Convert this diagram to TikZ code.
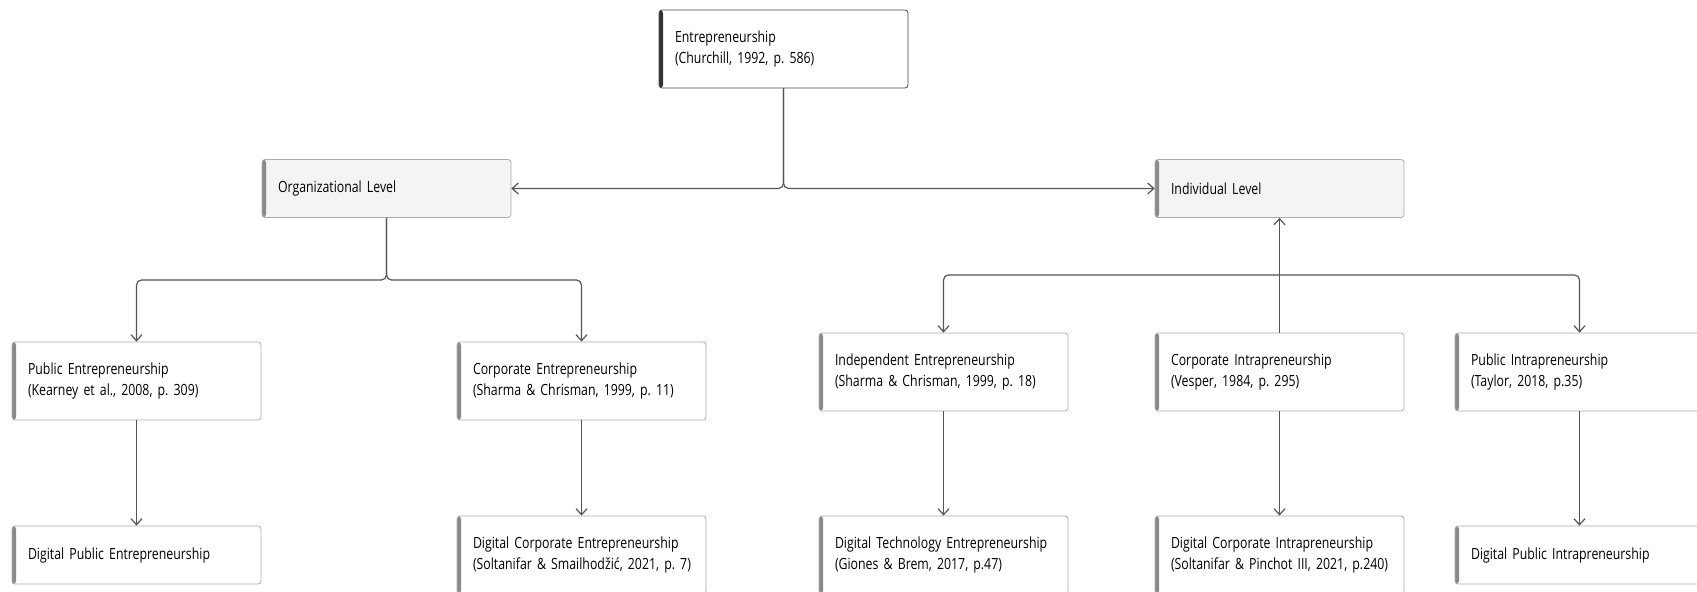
\documentclass[tikz,border=0pt]{standalone}
\usepackage{fontspec}
\setmainfont{Open Sans}[FakeStretch=0.8]
\usepackage{tikz}
\usetikzlibrary{positioning,arrows.meta}
\definecolor{edgegray}{HTML}{ABABAB}
\definecolor{bargray}{HTML}{8A8A8A}
\definecolor{rootgray}{HTML}{333333}
\definecolor{levelfill}{HTML}{F4F4F4}
\definecolor{linegray}{HTML}{555555}
\tikzset{bar/.style={path picture={\fill[#1] (path picture bounding box.south west) rectangle ([xshift=2pt]path picture bounding box.north west);}}}
\tikzstyle{box}      = [draw=edgegray, fill=white, rounded corners=1.5pt, text width=108.5pt, inner xsep=8pt, minimum height=39pt, align=left, font=\fontsize{7.7}{10.85}\selectfont\frenchspacing, bar=bargray]
\tikzstyle{shortbox} = [box, minimum height=29pt]
\tikzstyle{levelbox} = [shortbox, fill=levelfill]
\tikzstyle{rootbox}  = [box, draw=rootgray!90, bar=rootgray]
\tikzstyle{arrow}    = [draw=linegray, line width=0.6pt, -{Straight Barb[length=3pt,width=5.5pt]}, rounded corners=2.5pt]

\begin{document}
\begin{tikzpicture}[x=0.5pt,y=-0.5pt]
		\useasboundingbox (0,0) rectangle (1697,592);

		% top
		\node[rootbox] (root) at (783.5,49) {Entrepreneurship\\(Churchill, 1992, p. 586)};
		\node[levelbox] (org) at (386.5,188.5) {Organizational Level};
		\node[levelbox] (indiv) at (1279.5,188.5) {Individual Level};

		% organizational side
		\node[box] (pubent) at (136.5,381) {Public Entrepreneurship\\(Kearney et al., 2008, p. 309)};
		\node[box] (corpent) at (581.5,381) {Corporate Entrepreneurship\\(Sharma \& Chrisman, 1999, p. 11)};
		\node[shortbox] (dpubent) at (136.5,555) {Digital Public Entrepreneurship};
		\node[box] (dcorpent) at (581.5,555) {Digital Corporate Entrepreneurship\\\mbox{(Soltanifar \& Smailhodžić, 2021, p. 7)}};

		% individual side
		\node[box] (indep) at (943.5,372) {Independent Entrepreneurship\\(Sharma \& Chrisman, 1999, p. 18)};
		\node[box] (corpint) at (1279.5,372) {Corporate Intrapreneurship\\(Vesper, 1984, p. 295)};
		\node[box] (pubint) at (1579.5,372) {Public Intrapreneurship\\(Taylor, 2018, p.35)};
		\node[box] (dtechent) at (943.5,555) {Digital Technology Entrepreneurship\\(Giones \& Brem, 2017, p.47)};
		\node[box] (dcorpint) at (1279.5,555) {Digital Corporate Intrapreneurship\\\mbox{(Soltanifar \& Pinchot III, 2021, p.240)}};
		\node[shortbox] (dpubint) at (1579.5,555) {Digital Public Intrapreneurship};

		\coordinate (jl) at (386.5,280);
		\coordinate (jr) at (1279.5,275);

		\draw[arrow] (root.south) |- (org.east);
		\draw[arrow] (root.south) |- (indiv.west);

		\draw[arrow] (org.south) -- (jl) -| (pubent.north);
		\draw[arrow] (org.south) -- (jl) -| (corpent.north);
		\draw[arrow] (pubent) -- (dpubent);
		\draw[arrow] (corpent) -- (dcorpent);

		\draw[arrow] (corpint) -- (indiv);
		\draw[arrow] (jr) -| (indep.north);
		\draw[arrow] (jr) -| (pubint.north);
		\draw[arrow] (indep) -- (dtechent);
		\draw[arrow] (corpint) -- (dcorpint);
		\draw[arrow] (pubint) -- (dpubint);
\end{tikzpicture}
\end{document}
